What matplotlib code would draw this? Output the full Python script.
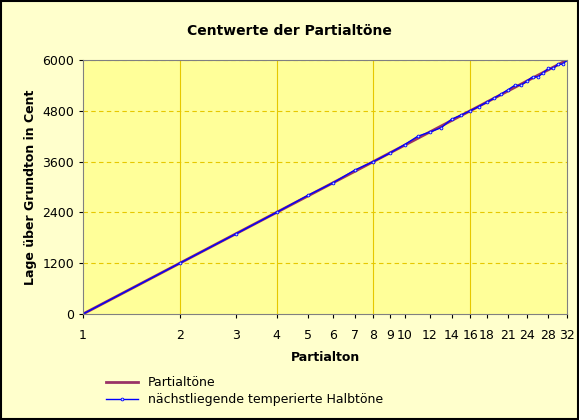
import matplotlib
matplotlib.use("Agg")
import matplotlib.pyplot as plt
from matplotlib.patches import Rectangle

partialton = list(range(1, 33))
partial_cent = [0, 1200, 1902, 2400, 2786, 3102, 3369, 3600, 3804, 3986, 4151, 4302,
                4441, 4569, 4688, 4800, 4905, 5004, 5098, 5186, 5271, 5351, 5428, 5502,
                5573, 5641, 5706, 5769, 5830, 5888, 5945, 6000]
halbton_cent = [0, 1200, 1900, 2400, 2800, 3100, 3400, 3600, 3800, 4000, 4200, 4300,
                4400, 4600, 4700, 4800, 4900, 5000, 5100, 5200, 5300, 5400, 5400, 5500,
                5600, 5600, 5700, 5800, 5800, 5900, 5900, 6000]
xtick_vals = [1, 2, 3, 4, 5, 6, 7, 8, 9, 10, 12, 14, 16, 18, 21, 24, 28, 32]
ytick_vals = [0, 1200, 2400, 3600, 4800, 6000]

fig = plt.figure(figsize=(5.79, 4.2), dpi=100, facecolor="#FFFFCC")
fig.patches.append(Rectangle((0.002, 0.003), 0.996, 0.994, transform=fig.transFigure,
                             fill=False, edgecolor="black", linewidth=1.5))
ax = fig.add_axes([83/579, 1 - 314/420, (567-83)/579, (314-60)/420])
ax.set_facecolor("#FFFF99")
ax.set_xscale("log", base=2)
ax.set_xlim(1, 32)
ax.set_ylim(0, 6000)

for v in [2, 4, 8, 16]:
    ax.axvline(v, color="#E6C800", linewidth=0.8, zorder=0)
for v in ytick_vals[1:]:
    ax.axhline(v, color="#E6C800", linewidth=0.8, linestyle=(0, (4, 3)), zorder=0)

ax.plot(partialton, partial_cent, color="#993366", linewidth=2, label="Partialtöne")
ax.plot(partialton, halbton_cent, color="#0000FF", linewidth=1, marker="o", markersize=2,
        markerfacecolor="#CCE0FF", markeredgewidth=0.6,
        label="nächstliegende temperierte Halbtöne")

ax.set_xticks(xtick_vals)
ax.set_xticklabels([str(v) for v in xtick_vals])
ax.minorticks_off()
ax.set_yticks(ytick_vals)
ax.tick_params(labelsize=9, length=3)
ax.tick_params(axis="x", pad=8)
for s in ax.spines.values():
    s.set_color("#808080")

ax.set_xlabel("Partialton", fontsize=9, fontweight="bold", labelpad=6)
ax.set_ylabel("Lage über Grundton in Cent", fontsize=9, fontweight="bold")
fig.text(0.5, 1 - 31/420, "Centwerte der Partialtöne", ha="center", va="center",
         fontsize=10, fontweight="bold")
fig.legend(loc="upper left", bbox_to_anchor=(95/579, 1 - 365/420), frameon=False,
           fontsize=9, handlelength=2.5, labelspacing=0.3)

fig.savefig("out.png", dpi=100, facecolor=fig.get_facecolor())
